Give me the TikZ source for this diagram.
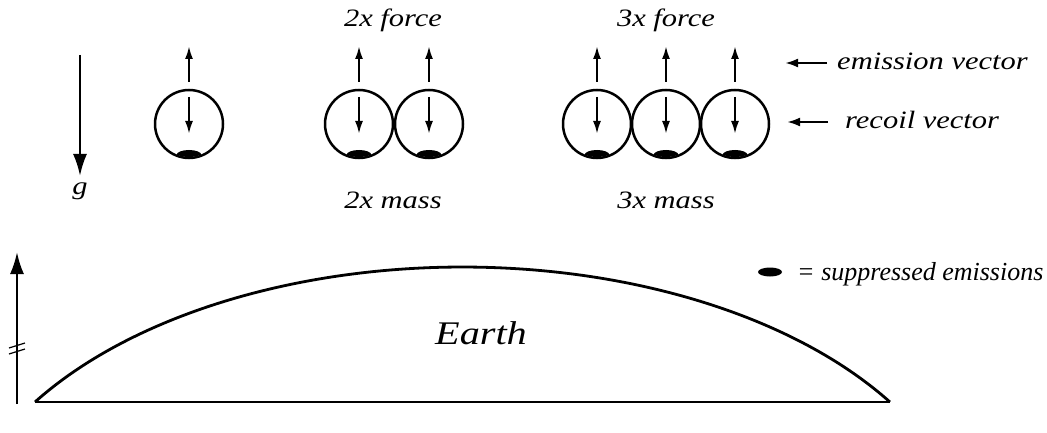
\documentclass[tikz,border=0pt]{standalone}
\usepackage{fontspec}
\setmainfont{Liberation Serif}
\newfontfamily\widefont{Liberation Serif}[FakeStretch=1.22]
\usetikzlibrary{arrows.meta,shapes.geometric}
\begin{document}
\begin{tikzpicture}[x=1pt,y=-1pt,
  lbl/.style={font=\widefont\fontsize{25}{29}\selectfont\itshape, inner sep=0pt},
  leg/.style={font=\fontsize{26}{30}\selectfont\itshape, inner sep=0pt},
  ball/.style={circle, draw, line width=2.5pt, minimum size=68pt, inner sep=0pt},
  bigarrow/.style={line width=2.5pt, -{Latex[length=22pt,width=14pt]}},
  smallarrow/.style={line width=2.2pt, -{Latex[length=13pt,width=8pt]}},
  sidearrow/.style={line width=2.4pt, -{Latex[length=13pt,width=9pt]}},
  earthline/.style={line width=2.8pt}]
\useasboundingbox (0,0) rectangle (1047,433);
% gravity arrow
\coordinate (gs) at (80,55);
\coordinate (ge) at (80,176);
\draw[bigarrow] (gs) -- (ge);
\node[lbl, anchor=base] (g) at (80,194) {g};
% balls
\foreach \n/\x in {a/189, b/359, c/429, d/597, e/666, f/735} {
  \node[ball] (ball\n) at (\x,124) {};
  \coordinate (us\n) at (\x,82);
  \coordinate (ue\n) at (\x,46);
  \coordinate (ds\n) at (\x,97);
  \coordinate (de\n) at (\x,134);
  \draw[smallarrow] (us\n) -- (ue\n);
  \draw[smallarrow] (ds\n) -- (de\n);
  \begin{scope}
    \clip (\x,124) circle (33);
    \fill (\x,155) ellipse [x radius=12.5, y radius=5];
  \end{scope}
}
% labels
\node[lbl, anchor=base] (f2) at (393,27) {2x force};
\node[lbl, anchor=base] (m2) at (393,208) {2x mass};
\node[lbl, anchor=base] (f3) at (666,27) {3x force};
\node[lbl, anchor=base] (m3) at (666,208) {3x mass};
% side legend
\node[lbl, anchor=base west] (ev) at (837,70) {emission vector};
\node[lbl, anchor=base west] (rv) at (845,129) {recoil vector};
\coordinate (evs) at (827,63);
\coordinate (eve) at (785,63);
\coordinate (rvs) at (828,122);
\coordinate (rve) at (787,122);
\draw[sidearrow] (evs) -- (eve);
\draw[sidearrow] (rvs) -- (rve);
% suppressed legend
\node[ellipse, fill, minimum width=24pt, minimum height=9pt, inner sep=0pt] (sup) at (770,272) {};
\node[leg, anchor=base west] (supt) at (797,280) {= suppressed emissions};
% earth
\coordinate (eL) at (35,402);
\coordinate (eR) at (890,402);
\draw[earthline] (eL) arc[start angle=-146.95, end angle=-33.05, x radius=510, y radius=296.9];
\draw[earthline] (eL) -- (eR);
\node[font=\widefont\fontsize{33}{37}\selectfont\itshape, inner sep=0pt, anchor=base] (earth) at (481,344) {Earth};
% height arrow
\coordinate (hb) at (17,404);
\coordinate (ht) at (17,252);
\draw[bigarrow] (hb) -- (ht);
\coordinate (t1a) at (9,348);
\coordinate (t1b) at (25,343);
\coordinate (t2a) at (9,354);
\coordinate (t2b) at (25,349);
\draw[line width=1.2pt] (t1a) -- (t1b);
\draw[line width=1.2pt] (t2a) -- (t2b);
\end{tikzpicture}
\end{document}
